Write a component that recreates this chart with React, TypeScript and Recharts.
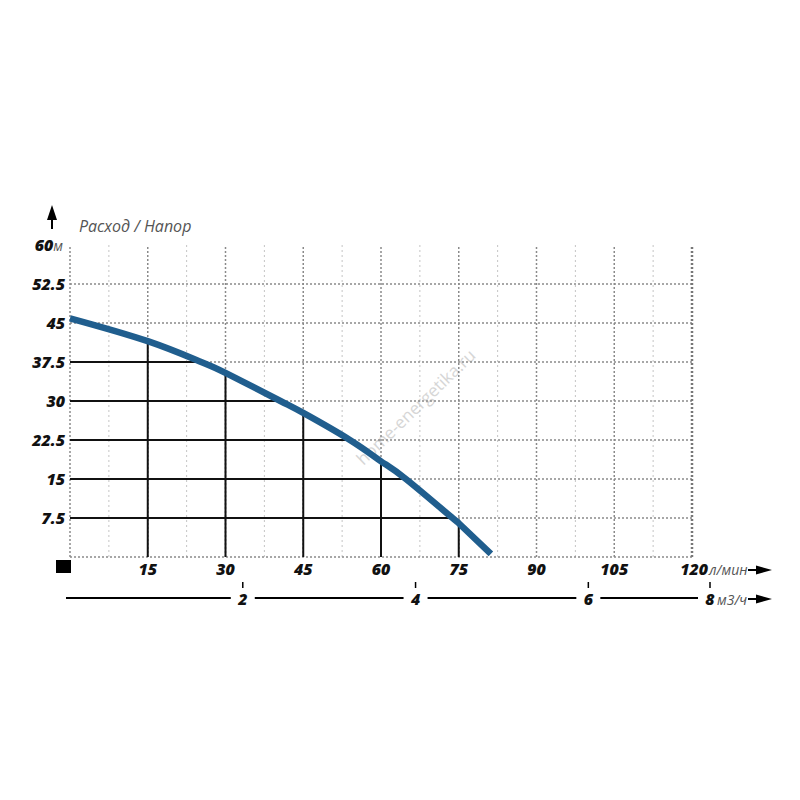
import React from 'react';
import { ComposedChart, Line, XAxis, YAxis, ReferenceLine } from 'recharts';

// pump curve: flow (l/min) vs head (m)
const flowLpm = [0, 15, 25.3, 30, 40.6, 45, 54, 60, 64.8, 73.8, 75, 81.2];
const headM = [45.9, 41.5, 37.5, 35.4, 30, 27.7, 22.5, 18.4, 15, 7.5, 6.5, 0.6];

const flowTicks = [15, 30, 45, 60, 75, 90, 105, 120];
const minorFlowLines = [7.5, 22.5, 37.5, 52.5, 67.5, 82.5, 97.5, 112.5];
const headTicks = [7.5, 15, 22.5, 30, 37.5, 45, 52.5, 60];
const headGridLines = [0, 7.5, 15, 22.5, 30, 37.5, 45, 52.5];
const m3hTicks = [2, 4, 6];
const dropFlows = [15, 30, 45, 60, 75];
const dropHeads = [7.5, 15, 22.5, 30, 37.5];

const LPM_PER_M3H = 1000 / 60;

const data = flowLpm.map((q, i) => ({ q, h: headM[i] }));
const headAt = (q: number) => data.find((d) => d.q === q)!.h;
const flowAt = (h: number) => data.find((d) => d.h === h)!.q;

const FONT = "'Open Sans', 'DejaVu Sans', sans-serif";
const CURVE = '#205e8e';

const numStyle: React.CSSProperties = {
  fontFamily: FONT,
  fontWeight: 800,
  fontStyle: 'italic',
  fontSize: 16,
  fill: '#111',
};
const unitStyle: React.CSSProperties = {
  fontFamily: FONT,
  fontWeight: 400,
  fontStyle: 'italic',
  fontSize: 14,
  fill: '#555',
};

const FlowTick = (props: any) => {
  const { x, y, payload } = props;
  if (payload.value === 120) {
    return (
      <g>
        <text x={x + 16} y={y + 18} textAnchor="end" style={numStyle}>120</text>
        <text x={x + 17} y={y + 18} style={unitStyle}>л/мин</text>
        <line x1={x + 56} y1={y + 13} x2={x + 66} y2={y + 13} stroke="#000" strokeWidth={2} />
        <polygon points={`${x + 64},${y + 8.5} ${x + 80},${y + 13} ${x + 64},${y + 17.5}`} fill="#000" />
      </g>
    );
  }
  return (
    <text x={x} y={y + 18} textAnchor="middle" style={numStyle}>
      {payload.value}
    </text>
  );
};

const M3Tick = (props: any) => {
  const { x, y, payload } = props;
  return (
    <g>
      <rect x={x - 12} y={y - 8} width={24} height={16} fill="#fff" />
      <line x1={x} y1={y - 16} x2={x} y2={y - 10} stroke="#000" strokeWidth={1.5} />
      <text x={x} y={y + 7} textAnchor="middle" style={numStyle}>
        {Math.round(payload.value / LPM_PER_M3H)}
      </text>
    </g>
  );
};

const M3Label = (props: any) => {
  const { viewBox } = props;
  if (!viewBox) return null;
  const { x, y, width } = viewBox;
  const r = x + width;
  return (
    <g>
      <line x1={x - 4} y1={y} x2={r + 6} y2={y} stroke="#000" strokeWidth={2} />
      <line x1={r + 18} y1={y - 16} x2={r + 18} y2={y - 10} stroke="#000" strokeWidth={1.5} />
      <text x={r + 18} y={y + 7} textAnchor="middle" style={numStyle}>8</text>
      <text x={r + 25} y={y + 7} style={unitStyle}>м3/ч</text>
      <line x1={r + 56} y1={y + 1} x2={r + 66} y2={y + 1} stroke="#000" strokeWidth={2} />
      <polygon points={`${r + 64},${y - 3.5} ${r + 80},${y + 1} ${r + 64},${y + 5.5}`} fill="#000" />
    </g>
  );
};

const HeadTick = (props: any) => {
  const { x, y, payload } = props;
  if (payload.value === 60) {
    return (
      <text x={x - 2} y={y} dy="0.35em" textAnchor="end" style={numStyle}>
        60
        <tspan style={unitStyle}>м</tspan>
      </text>
    );
  }
  return (
    <text x={x} y={y} dy="0.35em" textAnchor="end" style={numStyle}>
      {payload.value}
    </text>
  );
};

export default function App() {
  return (
    <div style={{ position: 'relative', width: 784, height: 784, background: '#fff' }}>
      <svg width={784} height={784} style={{ position: 'absolute', left: 0, top: 0 }}>
        <line x1={44} y1={206} x2={44} y2={221} stroke="#000" strokeWidth={2} />
        <polygon points="44,197 39,212 49,212" fill="#000" />
        <text x={71} y={224} style={{ fontFamily: FONT, fontStyle: 'italic', fontSize: 16, fill: '#555' }}>
          Расход / Напор
        </text>
        <rect x={48} y={552} width={15} height={13} fill="#000" />
        <text
          x={408}
          y={405}
          textAnchor="middle"
          transform="rotate(-44 408 399)"
          style={{ fontFamily: FONT, fontSize: 17, fill: '#d6d6d6' }}
        >
          home-energetika.ru
        </text>
      </svg>
      <div style={{ position: 'absolute', left: 0, top: 0 }}>
        <ComposedChart
          width={784}
          height={784}
          data={data}
          margin={{ top: 237, right: 100, left: 0, bottom: 164 }}
        >
          <XAxis
            dataKey="q"
            type="number"
            domain={[0, 120]}
            ticks={flowTicks}
            axisLine={false}
            tickLine={false}
            tickSize={0}
            tickMargin={0}
            height={41}
            interval={0}
            tick={<FlowTick />}
          />
          <XAxis
            xAxisId="m3"
            dataKey="q"
            type="number"
            domain={[0, 120]}
            allowDataOverflow
            ticks={m3hTicks.map((v) => v * LPM_PER_M3H)}
            axisLine={{ stroke: '#000', strokeWidth: 2 }}
            tickLine={false}
            tickSize={0}
            tickMargin={0}
            height={30}
            interval={0}
            tick={<M3Tick />}
            label={<M3Label />}
          />
          <YAxis
            type="number"
            domain={[0, 60]}
            ticks={headTicks}
            axisLine={false}
            tickLine={false}
            tickSize={0}
            tickMargin={5}
            width={62}
            interval={0}
            tick={<HeadTick />}
          />

          {minorFlowLines.map((q) => (
            <ReferenceLine key={`mv${q}`} x={q} stroke="#c4c4c4" strokeWidth={1} strokeDasharray="2 3" />
          ))}
          {headGridLines.map((h) => (
            <ReferenceLine key={`hg${h}`} y={h} stroke="#8a8a8a" strokeWidth={1.5} strokeDasharray="2 2" />
          ))}
          <ReferenceLine x={0} stroke="#8a8a8a" strokeWidth={1.5} strokeDasharray="2 2" />
          {flowTicks.map((q) => (
            <ReferenceLine
              key={`v${q}`}
              x={q}
              stroke={q === 120 ? '#777' : '#8a8a8a'}
              strokeWidth={q === 120 ? 2.5 : 1.5}
              strokeDasharray="2 2"
            />
          ))}

          {dropFlows.map((q) => (
            <ReferenceLine
              key={`dv${q}`}
              segment={[{ x: q, y: 0 }, { x: q, y: headAt(q) }]}
              stroke="#111"
              strokeWidth={2}
            />
          ))}
          {dropHeads.map((h) => (
            <ReferenceLine
              key={`dh${h}`}
              segment={[{ x: 0, y: h }, { x: flowAt(h), y: h }]}
              stroke="#111"
              strokeWidth={2}
            />
          ))}

          <Line
            type="natural"
            dataKey="h"
            stroke={CURVE}
            strokeWidth={6.5}
            dot={false}
            isAnimationActive={false}
          />
        </ComposedChart>
      </div>
    </div>
  );
}
